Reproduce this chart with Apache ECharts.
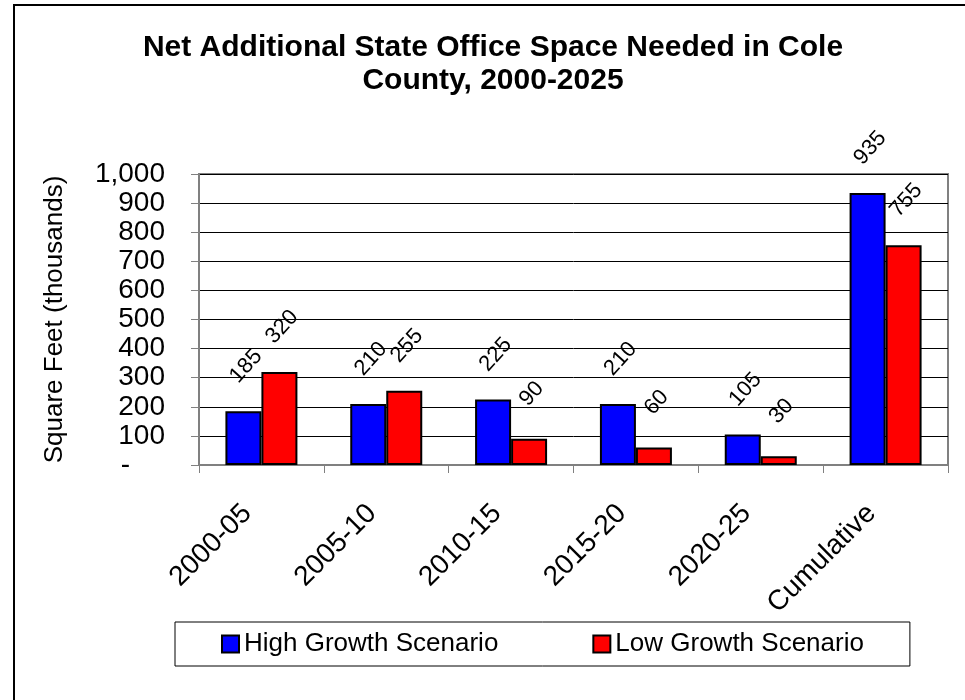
<!DOCTYPE html>
<html>
<head>
<meta charset="utf-8">
<script src="https://cdn.jsdelivr.net/npm/echarts@6/dist/echarts.min.js"></script>
<style>
html,body{margin:0;padding:0;background:#fff;}
#chart{width:965px;height:700px;}
</style>
</head>
<body>
<div id="chart"></div>
<script>
var categories = ['2000-05', '2005-10', '2010-15', '2015-20', '2020-25', 'Cumulative'];
var highGrowth = [185, 210, 225, 210, 105, 935];
var lowGrowth = [320, 255, 90, 60, 30, 755];
var seriesNames = ['High Growth Scenario', 'Low Growth Scenario'];
var titleText = 'Net Additional State Office Space Needed in Cole\nCounty, 2000-2025';
var yAxisName = 'Square Feet (thousands)';

var chart = echarts.init(document.getElementById('chart'), null, {renderer: 'canvas'});
var font = 'Arial, "Liberation Sans", sans-serif';

function labelCfg() {
  return {
    show: true,
    position: 'top',
    distance: 42,
    rotate: 48,
    align: 'center',
    verticalAlign: 'middle',
    offset: [4, 0],
    fontSize: 22,
    fontFamily: font,
    color: '#000'
  };
}

chart.setOption({
  animation: false,
  backgroundColor: '#fff',
  title: {
    text: titleText,
    left: 488,
    textAlign: 'center',
    top: 26,
    textStyle: {fontFamily: font, fontSize: 30, fontWeight: 'bold', color: '#000', lineHeight: 33}
  },
  graphic: [{
    type: 'rect',
    shape: {x: 14, y: 5, width: 1200, height: 1200},
    style: {fill: 'none', stroke: '#000', lineWidth: 2},
    silent: true
  }],
  legend: {
    bottom: 34,
    left: 175,
    padding: [9, 46, 9, 46],
    itemGap: 94,
    itemWidth: 17,
    itemHeight: 17,
    icon: 'rect',
    borderColor: '#000',
    borderWidth: 1,
    textStyle: {fontFamily: font, fontSize: 26, color: '#000'},
    data: seriesNames
  },
  grid: {
    left: 199, right: 17, top: 174, bottom: 235,
    show: true, borderColor: '#808080', borderWidth: 2, backgroundColor: 'transparent'
  },
  xAxis: {
    type: 'category',
    data: categories,
    axisLine: {lineStyle: {color: '#808080', width: 2}},
    axisTick: {show: true, length: 8, lineStyle: {color: '#808080', width: 1}},
    axisLabel: {rotate: 45, margin: 30, padding: [0, 20, 0, 0], fontSize: 28, fontFamily: font, color: '#000', interval: 0}
  },
  yAxis: {
    type: 'value',
    min: 0, max: 1000, interval: 100,
    name: yAxisName,
    nameLocation: 'middle',
    nameRotate: 90,
    nameGap: 131,
    nameTextStyle: {fontFamily: font, fontSize: 26, color: '#000'},
    axisLine: {show: true, lineStyle: {color: '#808080', width: 2}},
    axisTick: {show: true, length: 8, lineStyle: {color: '#808080'}},
    splitLine: {show: true, lineStyle: {color: '#000', width: 1}},
    axisLabel: {
      margin: 34, fontSize: 28, fontFamily: font, color: '#000',
      formatter: function (v) {
        if (v === 0) return '{dash|-}';
        return v.toLocaleString('en-US');
      },
      rich: {dash: {fontSize: 28, fontFamily: font, color: '#000', padding: [0, 35, 0, 0]}}
    }
  },
  series: [{
    name: seriesNames[0],
    type: 'bar',
    data: highGrowth,
    barWidth: 36,
    barGap: '0%',
    itemStyle: {color: '#0000FF', borderColor: '#000', borderWidth: 2},
    label: labelCfg()
  }, {
    name: seriesNames[1],
    type: 'bar',
    data: lowGrowth,
    barWidth: 36,
    barGap: '0%',
    itemStyle: {color: '#FF0000', borderColor: '#000', borderWidth: 2},
    label: labelCfg()
  }]
});
</script>
</body>
</html>
